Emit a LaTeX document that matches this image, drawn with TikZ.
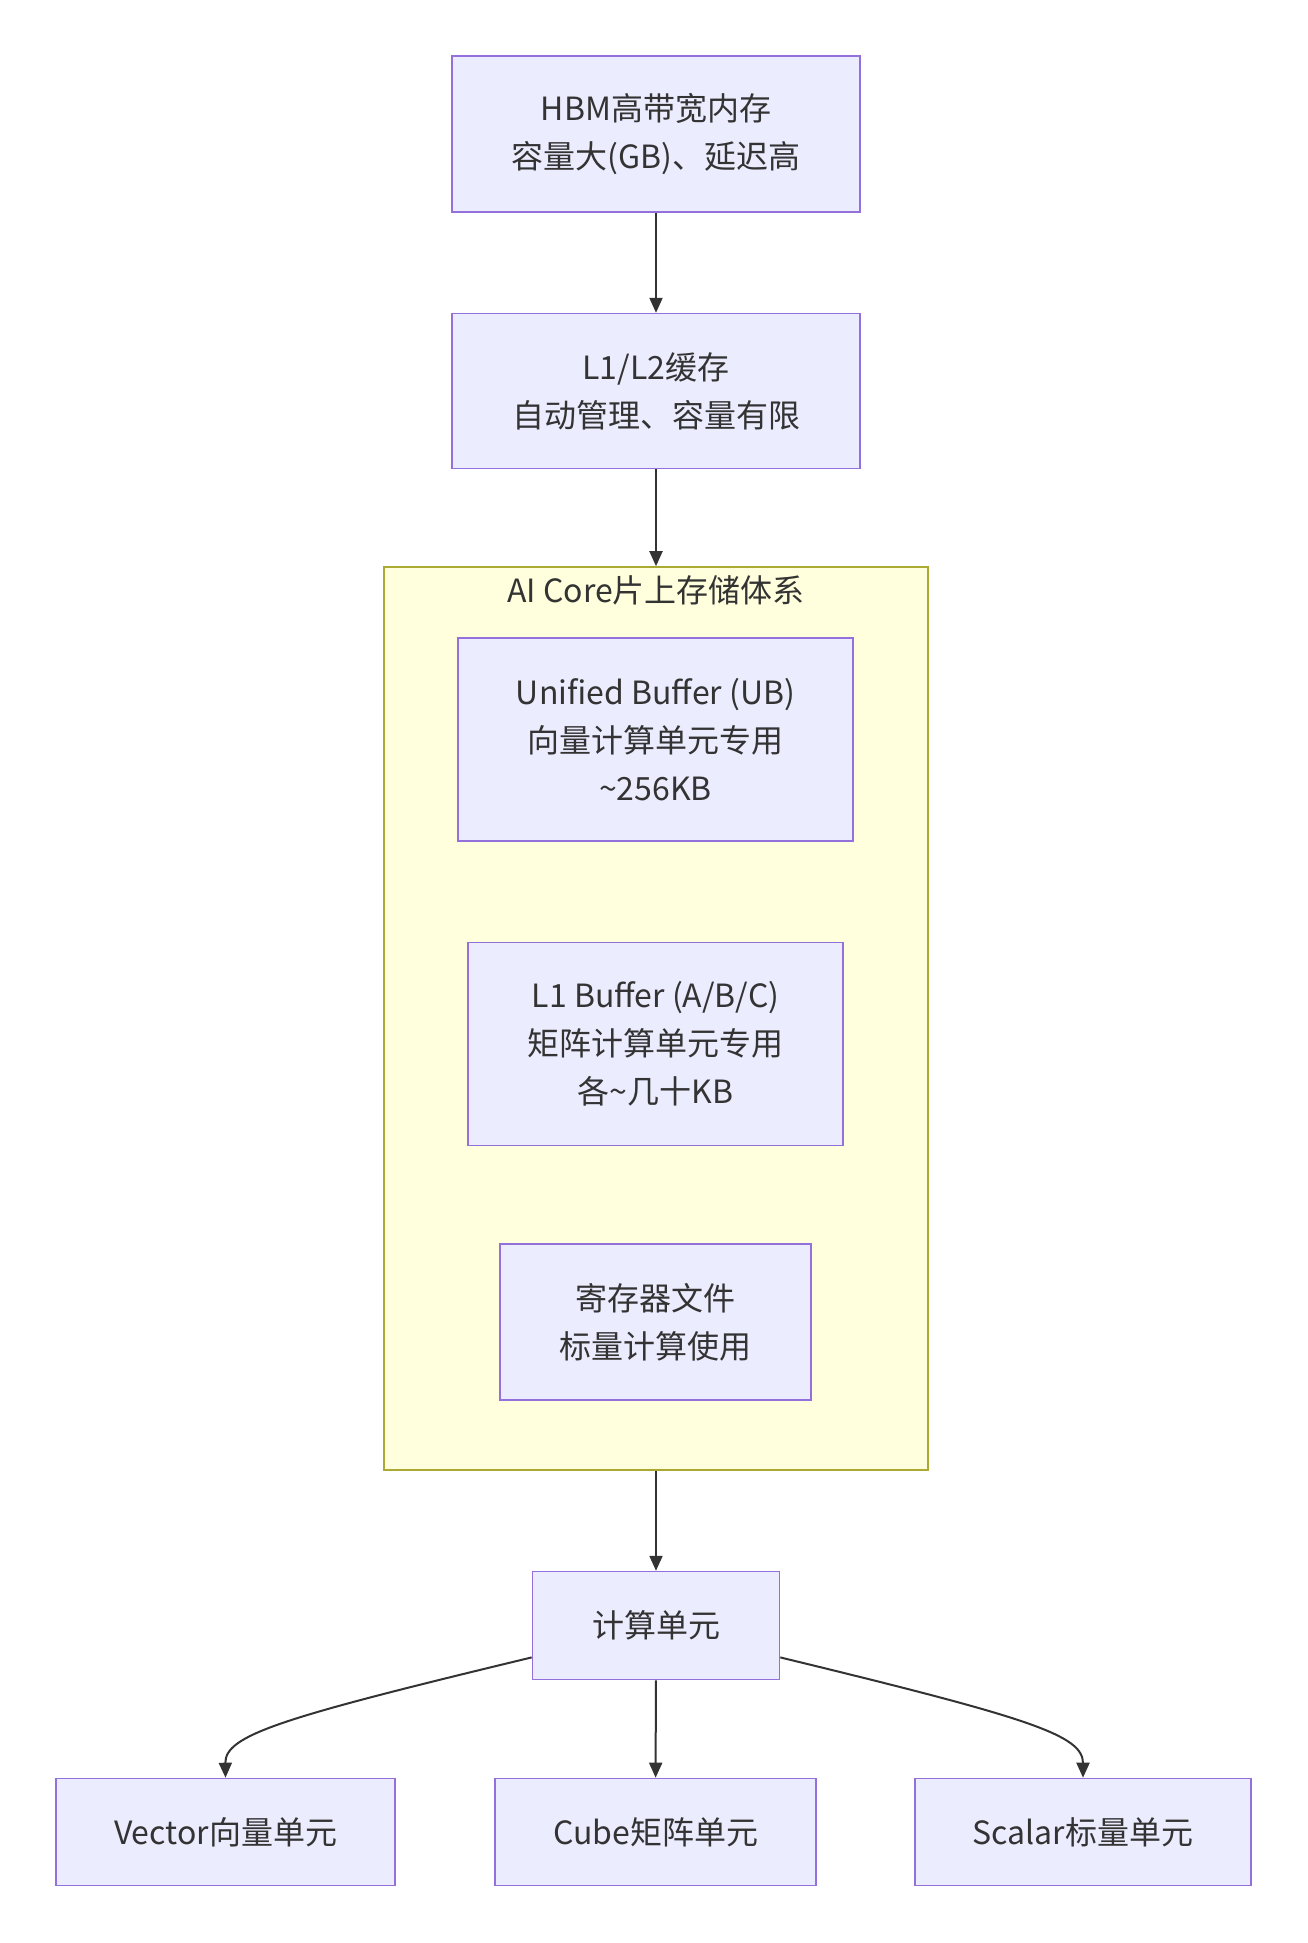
\documentclass[tikz,border=0pt]{standalone}
\usepackage{fontspec}
\setmainfont{Noto Sans CJK SC}
\usetikzlibrary{arrows.meta,positioning,calc}
\definecolor{nodefill}{HTML}{ECECFF}
\definecolor{nodeline}{HTML}{9370DB}
\definecolor{corefill}{HTML}{FFFFDE}
\definecolor{coreline}{HTML}{AAAA33}
\definecolor{inkgray}{HTML}{333333}

\begin{document}
\begin{tikzpicture}[
    x=1pt, y=-1pt,
    font=\fontsize{32}{48}\selectfont,
    mem/.style={rectangle, draw=nodeline, fill=nodefill, line width=1.6pt, inner sep=0pt, align=center, text=inkgray},
    core/.style={rectangle, draw=coreline, fill=corefill, line width=1.6pt, inner sep=0pt},
    flow/.style={draw=inkgray, line width=2pt, -{Triangle[length=15pt,width=13pt]}}
]
    \useasboundingbox (0,0) rectangle (1307,1943);

    % Off-chip memory
    \node[mem, minimum width=408pt, minimum height=156pt] (hbm) at (656,134) {HBM高带宽内存\\容量大(GB)、延迟高};
    \node[mem, minimum width=408pt, minimum height=155pt, below=100pt of hbm] (cache) {L1/L2缓存\\自动管理、容量有限};

    % AI Core
    \node[core, minimum width=544pt, minimum height=903pt] (aicore) at (656,1018.5) {};
    \node[text=inkgray, below=6pt of aicore.north] (coretitle) {AI Core片上存储体系};
    \node[mem, minimum width=395pt, minimum height=203pt] (ub) at (655.5,739.5) {Unified Buffer (UB)\\向量计算单元专用\\\textasciitilde256KB};
    \node[mem, minimum width=375pt, minimum height=203pt, below=100pt of ub] (l1buf) {L1 Buffer (A/B/C)\\矩阵计算单元专用\\各\textasciitilde 几十KB};
    \node[mem, minimum width=311pt, minimum height=156pt] (regfile) at (655.5,1322) {寄存器文件\\标量计算使用};

    % Compute units
    \node[mem, minimum width=247pt, minimum height=108pt, below=100pt of aicore] (calc) {计算单元};
    \node[mem, minimum width=321pt, minimum height=107pt] (cube) at (655.5,1832) {Cube矩阵单元};
    \node[mem, minimum width=339pt, minimum height=107pt] (vector) at (225.5,1832) {Vector向量单元};
    \node[mem, minimum width=336pt, minimum height=107pt] (scalar) at (1083,1832) {Scalar标量单元};

    \draw[flow] (hbm) -- (cache);
    \draw[flow] (cache) -- (aicore);
    \draw[flow] (aicore) -- (calc);
    \draw[flow] (calc) -- (cube);
    \draw[flow] ([yshift=23pt]calc.south west) .. controls (280,1718) and (225,1735) .. (vector.north);
    \draw[flow] ([yshift=23pt]calc.south east) .. controls (1030,1718) and (1083,1735) .. (scalar.north);
\end{tikzpicture}
\end{document}
